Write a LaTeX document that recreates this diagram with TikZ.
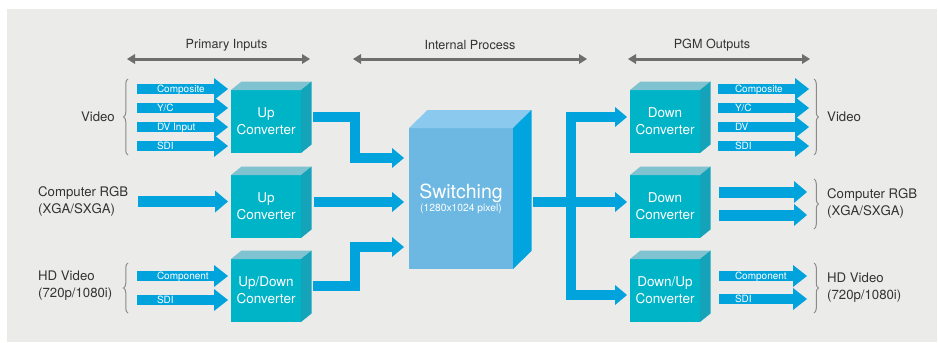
\documentclass[tikz,border=0pt]{standalone}
\usepackage{fontspec}
\setmainfont{TeX Gyre Heros}
\usetikzlibrary{arrows.meta,decorations.pathreplacing,calc}
\definecolor{bg}{HTML}{EBEBEA}
\definecolor{flow}{HTML}{00A3DC}
\definecolor{boxfront}{HTML}{00B4C8}
\definecolor{boxtop}{HTML}{80C3D0}
\definecolor{boxside}{HTML}{14A3B8}
\definecolor{swfront}{HTML}{6CB8E2}
\definecolor{swtop}{HTML}{8CC9EE}
\definecolor{swside}{HTML}{00A4DE}
\definecolor{txt}{HTML}{333333}
\definecolor{hdr}{HTML}{6E6E6E}
\definecolor{brc}{HTML}{8A8A8A}
\newcommand\cubefaces[5]{%
  \fill[#4] (#1.north west) -- ++(#2,-#3) -- ($(#1.north east)+(#2,-#3)$) -- (#1.north east) -- cycle;
  \fill[#5] (#1.north east) -- ++(#2,-#3) -- ($(#1.south east)+(#2,-#3)$) -- (#1.south east) -- cycle;}
\begin{document}
\begin{tikzpicture}[x=1pt,y=-1pt,
  cube/.style={minimum width=70pt,minimum height=63pt,inner sep=0pt,outer sep=0pt,
    fill=boxfront,text=white,align=center,font=\fontsize{13.5}{17}\selectfont},
  swbox/.style={minimum width=104pt,minimum height=141pt,inner sep=0pt,outer sep=0pt,
    fill=swfront,text=white,align=center},
  flowarrow/.style={draw=flow,line width=10pt,-{Triangle[length=12pt,width=20pt,line width=0pt]}},
  smallarrow/.style={draw=flow,line width=10pt,-{Triangle[length=14pt,width=22pt,line width=0pt]}},
  rgbarrow/.style={draw=flow,line width=11pt,-{Triangle[length=13pt,width=22pt,line width=0pt]}},
  hdrarrow/.style={draw=hdr,line width=3pt,{Triangle[length=8pt,width=10pt,line width=0pt]}-{Triangle[length=8pt,width=10pt,line width=0pt]}},
  hdrtext/.style={text=txt,font=\fontsize{12.6}{14}\selectfont,inner sep=0pt},
  side/.style={text=txt,font=\fontsize{13.2}{17}\selectfont,inner sep=0pt,align=left},
  lbl/.style={text=white,font=\fontsize{10}{10}\selectfont,inner sep=0pt,text height=7.2pt,text depth=0pt,anchor=west},
  bracestyle/.style={draw=brc,line width=1pt,decorate,decoration={brace,amplitude=4.5pt}}
]
\useasboundingbox (0,0) rectangle (938,343);
\fill[white] (0,0) rectangle (938,343);
\fill[bg] (7,9) rectangle (937,342);

% headers
\node[hdrtext] (hpi) at (226.5,45) {Primary Inputs};
\node[hdrtext] (hip) at (470,45) {Internal Process};
\node[hdrtext] (hpo) at (712,45) {PGM Outputs};
\coordinate (hpiL) at (127,59); \coordinate (hpiR) at (310,59);
\coordinate (hipL) at (353,59); \coordinate (hipR) at (587,59);
\coordinate (hpoL) at (628,59); \coordinate (hpoR) at (810,59);
\draw[hdrarrow] (hpiL) -- (hpiR);
\draw[hdrarrow] (hipL) -- (hipR);
\draw[hdrarrow] (hpoL) -- (hpoR);

% input boxes
\node[cube] (u1) at (266,121.5) {Up\\Converter};
\cubefaces{u1}{10.5}{8.5}{boxtop}{boxside}
\node[cube] (u2) at (266,206.5) {Up\\Converter};
\cubefaces{u2}{10.5}{8.5}{boxtop}{boxside}
\node[cube] (u3) at (266,290.5) {Up/Down\\Converter};
\cubefaces{u3}{10.5}{8.5}{boxtop}{boxside}

% output boxes
\node[cube] (d1) at (665,121.5) {Down\\Converter};
\cubefaces{d1}{10.5}{8.5}{boxtop}{boxside}
\node[cube] (d2) at (665,206.5) {Down\\Converter};
\cubefaces{d2}{10.5}{8.5}{boxtop}{boxside}
\node[cube] (d3) at (665,290.5) {Down/Up\\Converter};
\cubefaces{d3}{10.5}{8.5}{boxtop}{boxside}

% switching
\node[swbox] (sw) at (461,198.5) {{\fontsize{19.5}{19}\selectfont Switching}\\[1pt]{\fontsize{10.3}{11}\selectfont (1280x1024 pixel)}};
\cubefaces{sw}{18.5}{18}{swtop}{swside}

% input side labels and braces
\node[side,anchor=east] (tvid) at (115,117) {Video};
\node[side,anchor=west] (trgb) at (38,201) {Computer RGB\\(XGA/SXGA)};
\node[side,anchor=west] (thd) at (38,286) {HD Video\\(720p/1080i)};
\draw[bracestyle] (128,155) -- (128,79);
\draw[bracestyle] (128,313) -- (128,263);

% input small arrows
\coordinate (vi1) at (137,89);
\coordinate (vi2) at (137,108);
\coordinate (vi3) at (137,127);
\coordinate (vi4) at (137,146);
\draw[smallarrow,shorten >=3pt] (vi1) -- (vi1 -| u1.west) node[lbl,at start,xshift=15pt] (lvi1) {Composite};
\draw[smallarrow,shorten >=3pt] (vi2) -- (vi2 -| u1.west) node[lbl,at start,xshift=15pt] (lvi2) {Y/C};
\draw[smallarrow,shorten >=3pt] (vi3) -- (vi3 -| u1.west) node[lbl,at start,xshift=15pt] (lvi3) {DV Input};
\draw[smallarrow,shorten >=3pt] (vi4) -- (vi4 -| u1.west) node[lbl,at start,xshift=15pt] (lvi4) {SDI};
\coordinate (ri) at (138,201.5);
\draw[rgbarrow,shorten >=3pt] (ri) -- (ri -| u2.west);
\coordinate (hi1) at (137,276);
\coordinate (hi2) at (137,300);
\draw[smallarrow,shorten >=3pt] (hi1) -- (hi1 -| u3.west) node[lbl,at start,xshift=15pt] (lhi1) {Component};
\draw[smallarrow,shorten >=3pt] (hi2) -- (hi2 -| u3.west) node[lbl,at start,xshift=15pt] (lhi2) {SDI};

% into switching
\draw[flowarrow,shorten >=5pt] ($(u1.east)+(12,-4.5)$) -- ++(42,0) |- ([yshift=40.5pt]sw.west);
\draw[flowarrow,shorten >=5pt] ($(u2.east)+(13,-4.5)$) -- ([yshift=-3.5pt]sw.west);
\draw[flowarrow,shorten >=5pt] ($(u3.east)+(12,-4.5)$) -- ++(42,0) |- ([yshift=-48.5pt]sw.west);

% out of switching
\coordinate (swout) at ($(sw.east)+(20,3.5)$);
\coordinate (split) at (571,202);
\draw[flowarrow,shorten >=3pt] (swout) -- (split) |- ([yshift=4.5pt]d1.west);
\draw[flowarrow,shorten >=3pt] (swout) -- (split) |- ([yshift=-4.5pt]d3.west);
\draw[flowarrow,shorten >=3pt] (swout) -- ([yshift=4.5pt]d2.west);

% output small arrows
\coordinate (vo1) at (718,89);  \coordinate (vo1e) at (809,89);
\coordinate (vo2) at (718,108); \coordinate (vo2e) at (809,108);
\coordinate (vo3) at (718,127); \coordinate (vo3e) at (809,127);
\coordinate (vo4) at (718,146); \coordinate (vo4e) at (809,146);
\draw[smallarrow] (vo1) -- (vo1e) node[lbl,at start,xshift=12pt] (lvo1) {Composite};
\draw[smallarrow] (vo2) -- (vo2e) node[lbl,at start,xshift=12pt] (lvo2) {Y/C};
\draw[smallarrow] (vo3) -- (vo3e) node[lbl,at start,xshift=12pt] (lvo3) {DV};
\draw[smallarrow] (vo4) -- (vo4e) node[lbl,at start,xshift=12pt] (lvo4) {SDI};
\coordinate (ro1) at (719,192); \coordinate (ro1e) at (807,192);
\coordinate (ro2) at (719,215); \coordinate (ro2e) at (807,215);
\draw[rgbarrow] (ro1) -- (ro1e);
\draw[rgbarrow] (ro2) -- (ro2e);
\coordinate (ho1) at (719,276); \coordinate (ho1e) at (807,276);
\coordinate (ho2) at (719,299); \coordinate (ho2e) at (807,299);
\draw[smallarrow] (ho1) -- (ho1e) node[lbl,at start,xshift=11pt] (lho1) {Component};
\draw[smallarrow] (ho2) -- (ho2e) node[lbl,at start,xshift=11pt] (lho2) {SDI};

% output braces and labels
\draw[bracestyle] (814,79) -- (814,155);
\draw[bracestyle] (814,179) -- (814,229);
\draw[bracestyle] (814,263) -- (814,313);
\node[side,anchor=west] (ovid) at (827,117) {Video};
\node[side,anchor=west] (orgb) at (827,203) {Computer RGB\\(XGA/SXGA)};
\node[side,anchor=west] (ohd) at (827,287.5) {HD Video\\(720p/1080i)};
\end{tikzpicture}
\end{document}
